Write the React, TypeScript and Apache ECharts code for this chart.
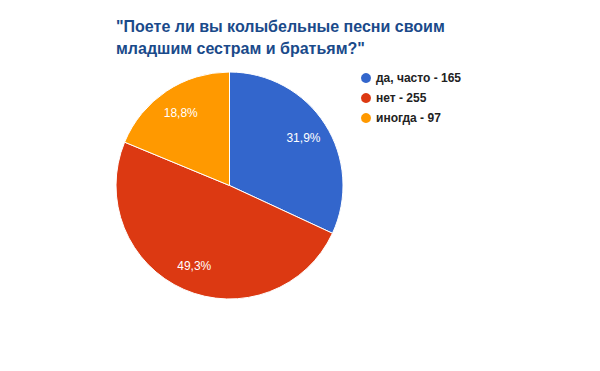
import React, { useEffect, useRef } from "react";
import * as echarts from "echarts";

const categories = ["да, часто", "нет", "иногда"];
const values = [165, 255, 97];
const colors = ["#3366cc", "#dc3912", "#ff9900"];
const titleText = '"Поете ли вы колыбельные песни своим\nмладшим сестрам и братьям?"';

export default function App() {
  const ref = useRef<HTMLDivElement>(null);
  useEffect(() => {
    const chart = echarts.init(ref.current!, undefined, { renderer: "svg" });
    const total = values.reduce((a, b) => a + b, 0);
    const data = categories.map((name, i) => ({
      name,
      value: values[i],
      itemStyle: { color: colors[i] },
    }));
    chart.setOption({
      animation: false,
      backgroundColor: "#ffffff",
      title: {
        text: titleText,
        left: 116,
        top: 15,
        padding: 0,
        textStyle: {
          fontFamily: "Liberation Sans, Arial, sans-serif",
          fontSize: 16,
          fontWeight: "bold",
          color: "#1a4a8a",
          lineHeight: 22,
        },
      },
      legend: {
        orient: "vertical",
        left: 359,
        top: 71,
        padding: 0,
        itemGap: 6,
        itemWidth: 12,
        itemHeight: 12,
        icon: "circle",
        data: categories,
        formatter: (name: string) => {
          const i = categories.indexOf(name);
          return `${name} - ${values[i]}`;
        },
        textStyle: {
          fontFamily: "Liberation Sans, Arial, sans-serif",
          fontSize: 12,
          fontWeight: "bold",
          color: "#222222",
          padding: [0, 0, 0, -1],
        },
      },
      series: [
        {
          type: "pie",
          center: [229.5, 185.5],
          radius: [0, 113.5],
          startAngle: 90,
          clockwise: true,
          label: { show: false },
          labelLine: { show: false },
          itemStyle: { borderColor: "#ffffff", borderWidth: 1 },
          emphasis: { disabled: true },
          data,
        },
        {
          type: "pie",
          center: [229.5, 185.5],
          radius: [56, 113.5],
          startAngle: 90,
          clockwise: true,
          silent: true,
          itemStyle: { color: "rgba(0,0,0,0)", borderWidth: 0 },
          label: {
            show: true,
            position: "inside",
            color: "#ffffff",
            fontFamily: "Liberation Sans, Arial, sans-serif",
            fontSize: 12,
            formatter: (p: any) =>
              ((p.value / total) * 100).toFixed(1).replace(".", ",") + "%",
          },
          labelLine: { show: false },
          emphasis: { disabled: true },
          data: categories.map((name, i) => ({ name, value: values[i] })),
        },
      ],
    });
    return () => chart.dispose();
  }, []);
  return (
    <div
      ref={ref}
      style={{ position: "absolute", left: 0, top: 0, width: 600, height: 371 }}
    />
  );
}
